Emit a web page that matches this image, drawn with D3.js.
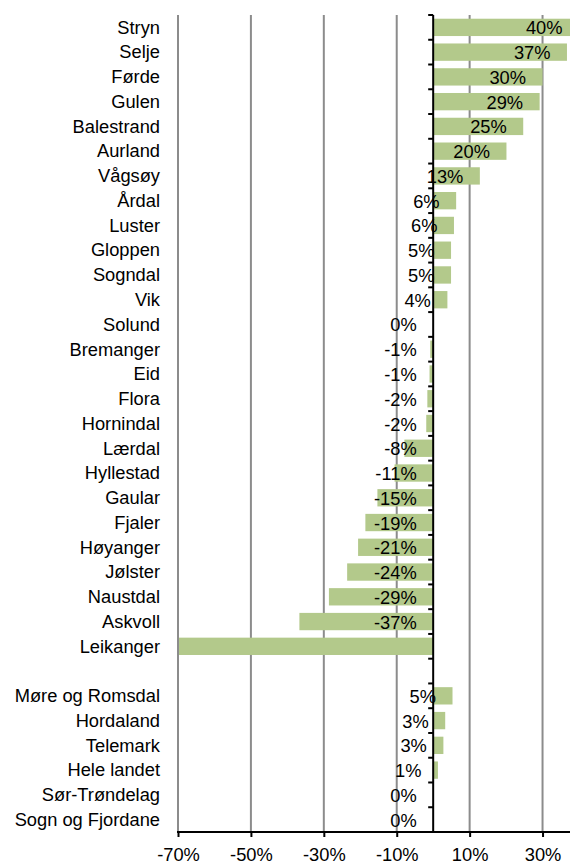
<!DOCTYPE html>
<html>
<head>
<meta charset="utf-8">
<script src="https://cdn.jsdelivr.net/npm/d3@7"></script>
<style>
  html, body { margin: 0; padding: 0; background: #fff; }
  svg { display: block; }
  text { font-family: "Liberation Sans", Arial, sans-serif; fill: #000; }
</style>
</head>
<body>
<svg id="chart" width="570" height="864"></svg>
<script>
// ---- data ----
const categories = [
  "Stryn", "Selje", "Førde", "Gulen", "Balestrand", "Aurland", "Vågsøy",
  "Årdal", "Luster", "Gloppen", "Sogndal", "Vik", "Solund", "Bremanger",
  "Eid", "Flora", "Hornindal", "Lærdal", "Hyllestad", "Gaular", "Fjaler",
  "Høyanger", "Jølster", "Naustdal", "Askvoll", "Leikanger", "",
  "Møre og Romsdal", "Hordaland", "Telemark", "Hele landet", "Sør-Trøndelag",
  "Sogn og Fjordane"
];
// change in percent (null = empty spacer row)
const values = [
  40.0, 36.7, 30.0, 29.2, 24.7, 20.1, 12.8,
  6.3, 5.7, 4.9, 4.9, 3.9, 0.0, -0.8,
  -1.0, -1.6, -1.9, -7.9, -10.6, -15.3, -18.6,
  -20.6, -23.6, -28.6, -36.7, -75.0, null,
  5.3, 3.3, 2.8, 1.3, 0.0,
  0.0
];
const tickValues = [-70, -50, -30, -10, 10, 30];
const xDomain = [-70, 40];

// ---- layout ----
const svg = d3.select("#chart");
const plotTop = 15, plotBottom = 832;
const x = d3.scaleLinear().domain(xDomain).range([178, 579]);
const y = d3.scaleBand().domain(d3.range(categories.length))
  .range([plotTop, plotBottom]).paddingInner(0.3).paddingOuter(0.15);
const step = y.step();
const fontSize = 18.3;
const barColor = "#b3c98b";

const data = categories.map((c, i) => ({ i, c, v: values[i] }));

// clip region for bars
svg.append("defs").append("clipPath").attr("id", "plotClip")
  .append("rect").attr("x", 179).attr("y", plotTop).attr("width", 570 - 179).attr("height", plotBottom - plotTop);

// gridlines
svg.append("g").selectAll("line").data(tickValues).join("line")
  .attr("x1", d => x(d)).attr("x2", d => x(d))
  .attr("y1", plotTop).attr("y2", plotBottom)
  .attr("stroke", "#8c8c8c").attr("stroke-width", 2);

// bars
svg.append("g").attr("clip-path", "url(#plotClip)")
  .selectAll("rect").data(data.filter(d => d.v !== null && d.v !== 0)).join("rect")
  .attr("x", d => x(Math.min(0, d.v)))
  .attr("width", d => Math.abs(x(d.v) - x(0)))
  .attr("y", d => y(d.i))
  .attr("height", y.bandwidth())
  .attr("fill", barColor);

// zero axis line with category ticks
const zx = x(0);
svg.append("line").attr("x1", zx).attr("x2", zx).attr("y1", plotTop).attr("y2", plotBottom)
  .attr("stroke", "#000").attr("stroke-width", 2);
svg.append("g").selectAll("line").data(d3.range(categories.length + 1)).join("line")
  .attr("x1", zx - 5).attr("x2", zx)
  .attr("y1", d => plotTop + d * step).attr("y2", d => plotTop + d * step)
  .attr("stroke", "#000").attr("stroke-width", 2);

// bottom axis
const xAxis = d3.axisBottom(x).tickValues(tickValues).tickSize(5)
  .tickFormat(d => d + "%");
const gx = svg.append("g").attr("transform", `translate(0,${plotBottom})`).call(xAxis);
gx.select(".domain").remove();
gx.append("line").attr("x1", x(-70) - 1).attr("x2", 570).attr("y1", 0).attr("y2", 0)
  .attr("stroke", "#000").attr("stroke-width", 2);
gx.selectAll(".tick line").attr("stroke", "#000").attr("stroke-width", 2);
gx.selectAll(".tick text").attr("y", 29).attr("dy", null)
  .attr("font-size", fontSize).attr("font-family", "Liberation Sans, Arial, sans-serif")
  .attr("fill", "#000");

// category labels
svg.append("g").selectAll("text").data(data).join("text")
  .attr("x", 160)
  .attr("y", d => y(d.i) + y.bandwidth() / 2 + 6.3)
  .attr("text-anchor", "end")
  .attr("font-size", fontSize)
  .text(d => d.c);

// value labels
const fmt = v => Math.round(v) + "%";
svg.append("g").selectAll("text")
  .data(data.filter(d => d.v !== null && d.v >= xDomain[0] && d.v <= xDomain[1]))
  .join("text")
  .attr("x", d => x(Math.max(0, d.v)) - 16.5)
  .attr("y", d => y(d.i) + y.bandwidth() / 2 + 7)
  .attr("text-anchor", "end")
  .attr("font-size", fontSize)
  .text(d => fmt(d.v));
</script>
</body>
</html>
